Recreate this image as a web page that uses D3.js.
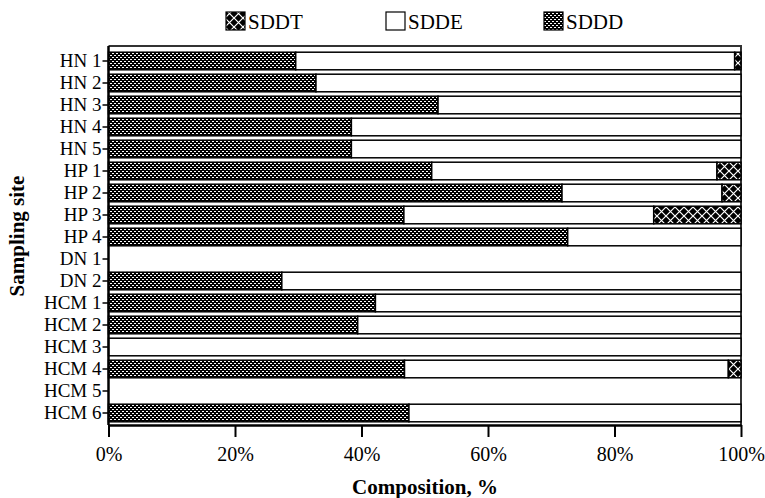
<!DOCTYPE html>
<html><head><meta charset="utf-8">
<script src="https://cdn.jsdelivr.net/npm/d3@7"></script>
<style>body{margin:0;background:#fff}svg{display:block}</style>
</head><body>
<script>
const sites = ["HN 1","HN 2","HN 3","HN 4","HN 5","HP 1","HP 2","HP 3","HP 4","DN 1","DN 2","HCM 1","HCM 2","HCM 3","HCM 4","HCM 5","HCM 6"];
const SDDD = [29.6,32.8,52.1,38.4,38.4,51.1,71.7,46.7,72.6,0,27.4,42.2,39.4,0,46.8,0,47.5];
const SDDE = [69.4,67.2,47.9,61.6,61.6,45.1,25.3,39.5,27.4,0,72.6,57.8,60.6,100,51.2,0,52.5];
const SDDT = [1.0,0,0,0,0,3.8,3.0,13.8,0,0,0,0,0,0,2.0,0,0];
const seriesNames = ["SDDT","SDDE","SDDD"];
const xTicks = [0,20,40,60,80,100];

const W=765,H=498;
const svg=d3.select("body").append("svg").attr("width",W).attr("height",H);
const defs=svg.append("defs");
const pD=defs.append("pattern").attr("id","pD").attr("patternUnits","userSpaceOnUse").attr("width",4).attr("height",4);
pD.append("rect").attr("width",4).attr("height",4).attr("fill","#000");
pD.append("rect").attr("x",0).attr("y",1).attr("width",2).attr("height",1).attr("fill","#fff");
pD.append("rect").attr("x",2).attr("y",3).attr("width",2).attr("height",1).attr("fill","#fff");
const pT=defs.append("pattern").attr("id","pT").attr("patternUnits","userSpaceOnUse").attr("width",9).attr("height",9);
pT.append("rect").attr("width",9).attr("height",9).attr("fill","#000");
pT.append("path").attr("d","M0,0L9,9M9,0L0,9").attr("stroke","#fff").attr("stroke-width",1.2);

const fills={SDDT:"url(#pT)",SDDE:"#fff",SDDD:"url(#pD)"};
const x=d3.scaleLinear().domain([0,100]).range([108.5,741]);
const y=d3.scaleBand().domain(sites).range([50,424]).paddingInner(0.2).paddingOuter(0.1);

const rows=sites.map((s,i)=>({site:s,SDDD:SDDD[i],SDDE:SDDE[i],SDDT:SDDT[i]}));
const stack=d3.stack().keys(["SDDD","SDDE","SDDT"])(rows);

svg.append("path").attr("d",`M${x(0)},46H741V425`).attr("fill","none").attr("stroke","#333").attr("stroke-width",2);

stack.forEach(layer=>{
  svg.append("g").selectAll("rect").data(layer.filter(d=>d[1]-d[0]>0)).join("rect")
    .attr("x",d=>x(d[0])).attr("width",d=>x(d[1])-x(d[0]))
    .attr("y",d=>y(d.data.site)).attr("height",y.bandwidth())
    .attr("fill",fills[layer.key]).attr("stroke","#000").attr("stroke-width",1.5);
});

const FF="'Liberation Serif'";
const gx=svg.append("g").attr("transform","translate(0,425)")
  .call(d3.axisBottom(x).tickValues(xTicks).tickFormat(d=>d+"%").tickSize(12).tickSizeOuter(0));
gx.attr("font-family",null);
gx.select(".domain").attr("stroke-width",2.5);
gx.selectAll(".tick line").attr("stroke-width",2);
gx.selectAll("text").style("font-family",FF).attr("font-size",20).attr("fill","#000").attr("dy","1.05em");

const gy=svg.append("g").attr("transform",`translate(${x(0)},0)`)
  .call(d3.axisLeft(y).tickSize(6).tickSizeOuter(0));
gy.attr("font-family",null);
gy.select(".domain").attr("stroke-width",2.5).attr("d","M0,46V425");
gy.selectAll(".tick line").attr("stroke-width",1.5);
gy.selectAll("text").style("font-family",FF).attr("font-size",19).attr("fill","#000").attr("x",-7);

svg.append("text").attr("x",425).attr("y",494).attr("text-anchor","middle").style("font-family",FF)
  .attr("font-weight","bold").attr("font-size",21).text("Composition, %");
svg.append("text").attr("transform","translate(24,236) rotate(-90)").attr("text-anchor","middle").style("font-family",FF)
  .attr("font-weight","bold").attr("font-size",21).text("Sampling site");

const lx=[226,386,544];
seriesNames.forEach((n,i)=>{
  svg.append("rect").attr("x",lx[i]).attr("y",12).attr("width",19).attr("height",18)
    .attr("fill",fills[n]).attr("stroke","#000").attr("stroke-width",1.2);
  svg.append("text").attr("x",lx[i]+22).attr("y",29).style("font-family",FF).attr("font-size",21).text(n);
});
</script>
</body></html>
